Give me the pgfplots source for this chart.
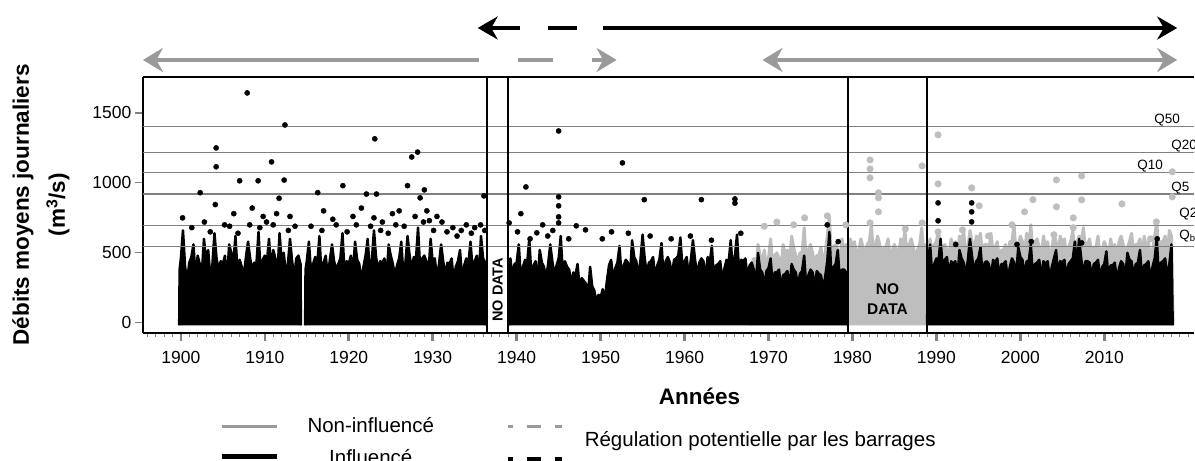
\documentclass[border=0pt]{standalone}
\usepackage{fontspec}
\setmainfont{Liberation Sans}
\usepackage{pgfplots}
\pgfplotsset{compat=1.18}
\usetikzlibrary{arrows.meta}
\definecolor{arrgray}{HTML}{9A9A9A}
\definecolor{ptgray}{HTML}{BEBEBE}
\definecolor{qgray}{HTML}{808080}
\begin{document}
\begin{tikzpicture}
\path (0pt,0pt) rectangle (1195pt,461pt);
\begin{axis}[
  at={(143pt,128pt)}, anchor=south west,
  scale only axis, width=1052pt, height=256pt,
  xmin=1895.476, xmax=2020.71, ymin=-71.43, ymax=1757.14,
  axis x line=box, axis y line=left,
  axis line style={-, line width=1.6pt},
  xtick={1900,1910,...,2010}, minor xtick={1896,...,2020},
  ytick={0,500,1000,1500},
  xtick pos=left, ytick pos=left, tick align=outside,
  major tick length=8pt, minor tick length=4pt,
  every major x tick/.style={line width=2.6pt},
  every minor x tick/.style={line width=0.9pt},
  every major y tick/.style={line width=1.2pt},
  tick label style={font=\fontsize{17.5}{21}\selectfont},
  x tick label style={yshift=-7pt},
  /pgf/number format/assume math mode=true,
  /pgf/number format/1000 sep={},
  clip=true,
]
% gray (non-influenced) series
\addplot[draw=ptgray, fill=ptgray, line width=3pt, line join=round] coordinates {
(1967.8,-18) (1968,420) (1968.25,460) (1968.5,350) (1968.75,560) (1969,480) (1969.25,440) (1969.5,520) (1969.75,400) (1970,460) (1970.25,600) (1970.5,420) (1970.75,480) (1971,500) (1971.25,460) (1971.5,400) (1971.75,560) (1972,480) (1972.25,520) (1972.5,420) (1972.75,620) (1973,540) (1973.25,480) (1973.5,430) (1973.75,500) (1974,500) (1974.25,680) (1974.5,440) (1974.75,520) (1975,560) (1975.25,500) (1975.5,420) (1975.75,480) (1976,480) (1976.25,540) (1976.5,400) (1976.75,500) (1977,620) (1977.25,760) (1977.5,460) (1977.75,540) (1978,560) (1978.25,520) (1978.5,440) (1978.75,600) (1979,520) (1979.25,560) (1979.5,480) (1979.75,600) (1980,540) (1980.25,580) (1980.5,460) (1980.75,520) (1981,600) (1981.25,540) (1981.5,480) (1981.75,560) (1982,580) (1982.25,700) (1982.5,500) (1982.75,560) (1983,620) (1983.25,560) (1983.5,480) (1983.75,540) (1984,540) (1984.25,600) (1984.5,460) (1984.75,520) (1985,560) (1985.25,520) (1985.5,480) (1985.75,600) (1986,540) (1986.25,660) (1986.5,480) (1986.75,560) (1987,600) (1987.25,540) (1987.5,460) (1987.75,520) (1988,560) (1988.25,680) (1988.5,500) (1988.75,560) (1989,540) (1989.25,600) (1989.5,480) (1989.75,560) (1990,580) (1990.25,660) (1990.5,500) (1990.75,540) (1991,560) (1991.25,520) (1991.5,480) (1991.75,600) (1992,540) (1992.25,580) (1992.5,460) (1992.75,620) (1993,580) (1993.25,660) (1993.5,480) (1993.75,540) (1994,660) (1994.25,580) (1994.5,500) (1994.75,620) (1995,580) (1995.25,640) (1995.5,480) (1995.75,560) (1996,560) (1996.25,520) (1996.5,640) (1996.75,500) (1997,540) (1997.25,580) (1997.5,460) (1997.75,520) (1998,520) (1998.25,560) (1998.5,440) (1998.75,580) (1999,580) (1999.25,700) (1999.5,480) (1999.75,560) (2000,620) (2000.25,580) (2000.5,500) (2000.75,640) (2001,560) (2001.25,700) (2001.5,480) (2001.75,580) (2002,600) (2002.25,540) (2002.5,480) (2002.75,620) (2003,540) (2003.25,580) (2003.5,460) (2003.75,520) (2004,640) (2004.25,580) (2004.5,500) (2004.75,620) (2005,560) (2005.25,600) (2005.5,480) (2005.75,540) (2006,580) (2006.25,660) (2006.5,500) (2006.75,580) (2007,620) (2007.25,580) (2007.5,680) (2007.75,540) (2008,560) (2008.25,600) (2008.5,480) (2008.75,540) (2009,540) (2009.25,620) (2009.5,460) (2009.75,520) (2010,580) (2010.25,540) (2010.5,460) (2010.75,600) (2011,520) (2011.25,560) (2011.5,440) (2011.75,580) (2012,620) (2012.25,560) (2012.5,480) (2012.75,540) (2013,580) (2013.25,640) (2013.5,480) (2013.75,560) (2014,560) (2014.25,600) (2014.5,460) (2014.75,620) (2015,540) (2015.25,580) (2015.5,460) (2015.75,520) (2016,620) (2016.25,720) (2016.5,500) (2016.75,580) (2017,580) (2017.25,620) (2017.5,480) (2017.75,660) (2018,620) (2018.2,-18)
};
\addplot[only marks, mark=*, mark size=3.3pt, mark options={draw=ptgray, fill=ptgray}] coordinates {
(1974.3,750) (1977,764) (1982.1,1164) (1982.1,1100) (1982.1,1036) (1983.1,893) (1983.1,793) (1983.1,929) (1982.1,714) (1988.3,1121) (1986.3,671) (1988.3,714) (1990.2,1343) (1990.2,993) (1990.2,650) (1994.2,964) (1995.1,836) (1993.1,664) (1996.2,621) (2004.3,1021) (2007.3,1050) (2004.3,829) (2007.3,879) (2012.1,850) (2006.3,750) (2006.3,679) (2018.1,1079) (2018.1,900) (2016.2,721) (2015.5,600) (2004,629) (2000.5,793) (2001.5,880) (1999,700) (1971,720) (1973,700) (1979.2,700) (1969.5,690)
};
% black (influenced / observed) series
\addplot[draw=black, fill=black, line width=2.5pt, line join=round] coordinates {
(1899.8,-18) (1899.85,380) (1900,460) (1900.25,660) (1900.5,400) (1900.75,300) (1901,430) (1901.25,470) (1901.5,560) (1901.75,320) (1902,480) (1902.25,420) (1902.5,360) (1902.75,600) (1903,440) (1903.25,520) (1903.5,330) (1903.75,410) (1904,640) (1904.25,460) (1904.5,380) (1904.75,440) (1905,420) (1905.25,480) (1905.5,300) (1905.75,560) (1906,500) (1906.25,430) (1906.5,620) (1906.75,360) (1907,450) (1907.25,400) (1907.5,340) (1907.75,470) (1908,580) (1908.25,460) (1908.5,380) (1908.75,430) (1909,420) (1909.25,650) (1909.5,350) (1909.75,450) (1910,480) (1910.25,440) (1910.5,600) (1910.75,380) (1911,520) (1911.25,460) (1911.5,340) (1911.75,640) (1912,450) (1912.25,500) (1912.5,360) (1912.75,420) (1913,600) (1913.25,440) (1913.5,330) (1913.75,460) (1914,480) (1914.25,420) (1914.3,-18)
};
\addplot[draw=black, fill=black, line width=2.5pt, line join=round] coordinates {
(1914.8,-18) (1914.85,380) (1915,440) (1915.25,580) (1915.5,360) (1915.75,420) (1916,470) (1916.25,420) (1916.5,620) (1916.75,340) (1917,430) (1917.25,480) (1917.5,330) (1917.75,450) (1918,560) (1918.25,440) (1918.5,380) (1918.75,420) (1919,460) (1919.25,640) (1919.5,350) (1919.75,440) (1920,420) (1920.25,480) (1920.5,360) (1920.75,580) (1921,450) (1921.25,420) (1921.5,300) (1921.75,400) (1922,480) (1922.25,600) (1922.5,370) (1922.75,450) (1923,660) (1923.25,470) (1923.5,380) (1923.75,440) (1924,430) (1924.25,460) (1924.5,320) (1924.75,560) (1925,480) (1925.25,420) (1925.5,340) (1925.75,410) (1926,460) (1926.25,580) (1926.5,350) (1926.75,430) (1927,620) (1927.25,480) (1927.5,380) (1927.75,470) (1928,450) (1928.25,680) (1928.5,390) (1928.75,460) (1929,480) (1929.25,440) (1929.5,360) (1929.75,600) (1930,430) (1930.25,460) (1930.5,320) (1930.75,420) (1931,560) (1931.25,440) (1931.5,340) (1931.75,430) (1932,420) (1932.25,460) (1932.5,300) (1932.75,400) (1933,440) (1933.25,520) (1933.5,320) (1933.75,410) (1934,460) (1934.25,420) (1934.5,580) (1934.75,380) (1935,440) (1935.25,480) (1935.5,340) (1935.75,620) (1936,460) (1936.25,430) (1936.35,-18)
};
\addplot[draw=black, fill=black, line width=2.5pt, line join=round] coordinates {
(1939.1,-18) (1939.15,420) (1939.25,460) (1939.5,330) (1939.75,420) (1940,430) (1940.25,560) (1940.5,320) (1940.75,400) (1941,450) (1941.25,420) (1941.5,600) (1941.75,340) (1942,410) (1942.25,440) (1942.5,300) (1942.75,520) (1943,430) (1943.25,400) (1943.5,320) (1943.75,420) (1944,560) (1944.25,440) (1944.5,340) (1944.75,410) (1945,460) (1945.25,620) (1945.5,350) (1945.75,440) (1946,400) (1946.25,380) (1946.5,280) (1946.75,360) (1947,340) (1947.25,420) (1947.5,250) (1947.75,320) (1948,300) (1948.25,280) (1948.5,200) (1948.75,400) (1949,260) (1949.25,230) (1949.5,150) (1949.75,200) (1950,180) (1950.25,240) (1950.5,160) (1950.75,300) (1951,410) (1951.25,450) (1951.5,310) (1951.75,390) (1952,430) (1952.25,550) (1952.5,330) (1952.75,410) (1953,450) (1953.25,430) (1953.5,340) (1953.75,590) (1954,470) (1954.25,440) (1954.5,330) (1954.75,450) (1955,630) (1955.25,460) (1955.5,350) (1955.75,430) (1956,440) (1956.25,470) (1956.5,320) (1956.75,410) (1957,450) (1957.25,570) (1957.5,330) (1957.75,440) (1958,470) (1958.25,430) (1958.5,340) (1958.75,450) (1959,460) (1959.25,480) (1959.5,610) (1959.75,390) (1960,440) (1960.25,470) (1960.5,330) (1960.75,450) (1961,590) (1961.25,450) (1961.5,340) (1961.75,430) (1962,460) (1962.25,440) (1962.5,320) (1962.75,470) (1963,430) (1963.25,550) (1963.5,310) (1963.75,410) (1964,420) (1964.25,440) (1964.5,300) (1964.75,390) (1965,450) (1965.25,430) (1965.5,590) (1965.75,370) (1966,480) (1966.25,630) (1966.5,350) (1966.75,450) (1967,440) (1967.25,460) (1967.5,320) (1967.75,410) (1968,430) (1968.25,380) (1968.5,280) (1968.75,500) (1969,380) (1969.25,360) (1969.5,260) (1969.75,370) (1970,390) (1970.25,460) (1970.5,270) (1970.75,360) (1971,360) (1971.25,380) (1971.5,250) (1971.75,340) (1972,350) (1972.25,370) (1972.5,240) (1972.75,420) (1973,380) (1973.25,360) (1973.5,260) (1973.75,350) (1974,370) (1974.25,480) (1974.5,250) (1974.75,340) (1975,380) (1975.25,360) (1975.5,260) (1975.75,370) (1976,350) (1976.25,340) (1976.5,240) (1976.75,330) (1977,440) (1977.25,650) (1977.5,320) (1977.75,400) (1978,420) (1978.25,520) (1978.5,300) (1978.75,380) (1979,380) (1979.25,360) (1979.4,-18)
};
\addplot[draw=black, fill=black, line width=2.5pt, line join=round] coordinates {
(1988.9,-18) (1988.95,420) (1989,440) (1989.25,560) (1989.5,340) (1989.75,420) (1990,460) (1990.25,440) (1990.5,600) (1990.75,380) (1991,450) (1991.25,470) (1991.5,340) (1991.75,440) (1992,420) (1992.25,440) (1992.5,320) (1992.75,520) (1993,460) (1993.25,430) (1993.5,340) (1993.75,450) (1994,600) (1994.25,470) (1994.5,360) (1994.75,440) (1995,460) (1995.25,540) (1995.5,340) (1995.75,430) (1996,440) (1996.25,420) (1996.5,320) (1996.75,450) (1997,430) (1997.25,460) (1997.5,330) (1997.75,420) (1998,420) (1998.25,440) (1998.5,310) (1998.75,400) (1999,460) (1999.25,430) (1999.5,340) (1999.75,540) (2000,470) (2000.25,450) (2000.5,340) (2000.75,440) (2001,440) (2001.25,560) (2001.5,330) (2001.75,420) (2002,430) (2002.25,450) (2002.5,320) (2002.75,440) (2003,420) (2003.25,440) (2003.5,310) (2003.75,400) (2004,460) (2004.25,520) (2004.5,340) (2004.75,440) (2005,430) (2005.25,450) (2005.5,320) (2005.75,420) (2006,440) (2006.25,460) (2006.5,580) (2006.75,400) (2007,600) (2007.25,460) (2007.5,340) (2007.75,440) (2008,440) (2008.25,430) (2008.5,330) (2008.75,420) (2009,430) (2009.25,450) (2009.5,320) (2009.75,400) (2010,420) (2010.25,510) (2010.5,310) (2010.75,410) (2011,410) (2011.25,430) (2011.5,300) (2011.75,390) (2012,440) (2012.25,420) (2012.5,320) (2012.75,500) (2013,450) (2013.25,440) (2013.5,330) (2013.75,420) (2014,430) (2014.25,520) (2014.5,320) (2014.75,410) (2015,420) (2015.25,440) (2015.5,310) (2015.75,400) (2016,460) (2016.25,600) (2016.5,330) (2016.75,430) (2017,440) (2017.25,460) (2017.5,320) (2017.75,420) (2018,560) (2018.15,-18)
};
\addplot[only marks, mark=*, mark size=2.6pt, mark options={fill=black}] coordinates {
(1900.2,750) (1902.3,930) (1904.2,1250) (1904.2,1115) (1904.1,845) (1907.9,1643) (1907,1015) (1909.2,1015) (1910.8,1150) (1912.4,1414) (1912.3,1020) (1911.7,890) (1916.3,930) (1919.3,980) (1922.1,920) (1923.1,1315) (1923,750) (1923.3,920) (1925.6,700) (1927,980) (1927.5,1185) (1928.2,1220) (1928.5,893) (1929,950) (1929.6,730) (1931.1,720) (1932.4,680) (1936.1,907) (1939.1,714) (1940.5,780) (1941.1,971) (1942.4,643) (1943.1,700) (1945,1371) (1945,900) (1945,836) (1945,757) (1945,714) (1947.1,693) (1948.2,664) (1950.2,600) (1951.3,650) (1952.6,1143) (1955.2,880) (1962,880) (1966,885) (1966,855) (1977,700) (1990.2,857) (1990.2,729) (1994.2,857) (1994.2,793) (1994.2,721) (2007.3,571) (1905.2,700) (1906.3,780) (1908.5,820) (1909.8,760) (1911,700) (1913,760) (1917,800) (1918.5,700) (1920.5,760) (1921.5,820) (1924,720) (1926,800) (1930.5,760) (1934,700) (1935,680)
(1901.3,680) (1902.8,720) (1903.5,650) (1905.8,690) (1906.8,640) (1908.2,700) (1909.4,680) (1910.2,720) (1911.4,780) (1912.8,660) (1913.6,690) (1915.5,690) (1916.8,660) (1918.1,740) (1919.8,650) (1920.9,700) (1922.6,690) (1923.8,660) (1924.7,640) (1925.2,780) (1926.6,690) (1927.9,760) (1928.9,720) (1929.3,800) (1930.1,660) (1931.7,650) (1932.9,620) (1933.4,660) (1934.6,640) (1935.7,700) (1936.2,660) (1940.1,650) (1941.6,600) (1943.7,620) (1944.3,660) (1946.2,600) (1953.3,640) (1955.9,620) (1958.4,600) (1960.7,620) (1963.2,590) (1966.7,640) (1978.3,580) (1992.3,560) (1999.6,560) (2001.3,580) (2016.3,600)
};
% quantile lines
\addplot[qgray, line width=1.3pt] coordinates {(1895.5,1402) (2020.7,1402)};
\addplot[qgray, line width=1.3pt] coordinates {(1895.5,1219) (2020.7,1219)};
\addplot[qgray, line width=1.3pt] coordinates {(1895.5,1073) (2020.7,1073)};
\addplot[qgray, line width=1.3pt] coordinates {(1895.5,921) (2020.7,921)};
\addplot[qgray, line width=1.3pt] coordinates {(1895.5,695) (2020.7,695)};
\addplot[qgray, line width=1.3pt] coordinates {(1895.5,545) (2020.7,545)};
% no-data separators
\addplot[black, line width=1.6pt] coordinates {(1936.45,-71.43) (1936.45,1757.14)};
\addplot[black, line width=1.6pt] coordinates {(1939.0,-71.43) (1939.0,1757.14)};
\addplot[black, line width=1.6pt] coordinates {(1979.5,-71.43) (1979.5,1757.14)};
\addplot[black, line width=1.6pt] coordinates {(1988.85,-71.43) (1988.85,1757.14)};
\node[rotate=90, font=\bfseries\fontsize{14.5}{16}\selectfont] at (axis cs:1937.74,236) {NO DATA};
\node[align=center, font=\bfseries\fontsize{15.5}{20}\selectfont] at (axis cs:1984.17,171) {NO\\DATA};
\end{axis}
% quantile labels (cut by the right edge, as in the reference)
\begin{scope}[overlay, font=\fontsize{13.5}{16}\selectfont, inner sep=0pt]
\node[anchor=base west] at (1155pt,337.5pt) {Q50};
\node[anchor=base west] at (1172pt,311.5pt) {Q20};
\node[anchor=base west] at (1138pt,291pt) {Q10};
\node[anchor=base west] at (1172pt,269pt) {Q5};
\node[anchor=base west] at (1180pt,243pt) {Q2};
\node[anchor=base west] at (1180pt,221pt) {Q\textsubscript{b}};
\end{scope}
% period arrows
\draw[black, line width=4.3pt, {Stealth[length=20pt,width=23pt]}-] (478pt,433pt) -- (520pt,433pt);
\draw[black, line width=4.3pt] (548pt,433pt) -- (577pt,433pt);
\draw[black, line width=4.3pt, -{Stealth[length=20pt,width=23pt]}] (603pt,433pt) -- (1178pt,433pt);
\draw[arrgray, line width=4pt, {Stealth[length=20pt,width=24pt]}-] (143pt,401pt) -- (479pt,401pt);
\draw[arrgray, line width=4pt] (518pt,401pt) -- (553pt,401pt);
\draw[arrgray, line width=4pt, -{Stealth[length=20pt,width=24pt]}] (592pt,401pt) -- (617pt,401pt);
\draw[arrgray, line width=4pt, {Stealth[length=20pt,width=24pt]}-{Stealth[length=20pt,width=24pt]}] (763pt,401pt) -- (1178pt,401pt);
% axis titles
\node[font=\bfseries\fontsize{22.5}{26}\selectfont] at (700pt,64pt) {Années};
\node[rotate=90, align=center, font=\bfseries\fontsize{22.5}{36}\selectfont] at (41pt,256pt) {Débits moyens journaliers\\(m\textsuperscript{3}/s)};
% legend
\draw[arrgray, line width=3.5pt] (222pt,34pt) -- (277pt,34pt);
\draw[arrgray, line width=3.5pt, dash pattern=on 14pt off 14pt, dash phase=9pt] (508pt,34pt) -- (562pt,34pt);
\node[font=\fontsize{20.5}{24}\selectfont] at (371pt,36pt) {Non-influencé};
\node[anchor=west, inner sep=0pt, font=\fontsize{20.5}{24}\selectfont] at (585pt,20pt) {Régulation potentielle par les barrages};
\begin{scope}[overlay]
\draw[black, line width=5pt] (222pt,4pt) -- (277pt,4pt);
\draw[black, line width=5pt, dash pattern=on 14pt off 14pt, dash phase=9pt] (508pt,1pt) -- (562pt,1pt);
\node[anchor=base, font=\fontsize{20.5}{24}\selectfont] at (371pt,-3.5pt) {Influencé};
\end{scope}
\end{tikzpicture}
\end{document}
